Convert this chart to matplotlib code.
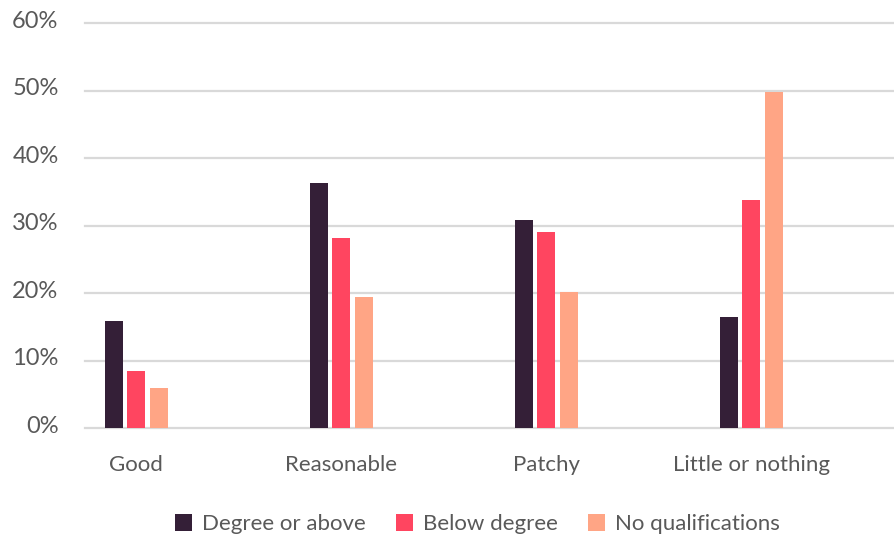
import matplotlib
matplotlib.use("Agg")
import matplotlib.pyplot as plt
import matplotlib.transforms as mtransforms
import numpy as np

categories = ["Good", "Reasonable", "Patchy", "Little or nothing"]
series_names = ["Degree or above", "Below degree", "No qualifications"]
degree_or_above = [15.9, 36.3, 30.9, 16.5]
below_degree = [8.5, 28.1, 29.1, 33.8]
no_qualifications = [6.0, 19.4, 20.2, 49.8]
y_ticks = [0, 10, 20, 30, 40, 50, 60]

colors = ["#341f37", "#ff4560", "#ffa585"]
text_color = "#595959"
grid_color = "#d9d9d9"

plt.rcParams["font.family"] = ["Lato", "DejaVu Sans"]

fig = plt.figure(figsize=(8.95, 5.38), dpi=100)
ax = fig.add_axes([85 / 895, 0.2039, 1 - 85 / 895, 0.7533])

x = np.arange(len(categories))
step = 0.1098
width = 0.088
all_series = [degree_or_above, below_degree, no_qualifications]
for i, (vals, name, col) in enumerate(zip(all_series, series_names, colors)):
    ax.bar(x + (i - 1) * step, vals, width=width, color=col, label=name,
           zorder=3, linewidth=0)

ax.set_ylim(0, 60)
ax.set_xlim(-0.249, 3.70)
ax.set_yticks(y_ticks)
ax.set_yticklabels([f"{t}%" for t in y_ticks])
for t in y_ticks:
    ax.axhline(t, color=grid_color, linewidth=1.6, zorder=1, clip_on=False)

ax.set_xticks(x)
ax.set_xticklabels(categories)
ax.tick_params(axis="both", length=0, labelcolor=text_color)
ax.tick_params(axis="x", labelsize=16, pad=19)
ax.tick_params(axis="y", labelsize=17, pad=19)
shift = mtransforms.ScaledTranslation(0, 0.04, fig.dpi_scale_trans)
for lab in ax.get_yticklabels():
    lab.set_transform(lab.get_transform() + shift)
for s in ax.spines.values():
    s.set_visible(False)

leg = ax.legend(loc="upper center", bbox_to_anchor=(0.4846, -0.162), ncol=3,
                frameon=False, fontsize=16, handlelength=0.78, handleheight=0.78,
                handletextpad=0.45, columnspacing=1.35, labelcolor=text_color)

fig.savefig("out.png", dpi=100)
